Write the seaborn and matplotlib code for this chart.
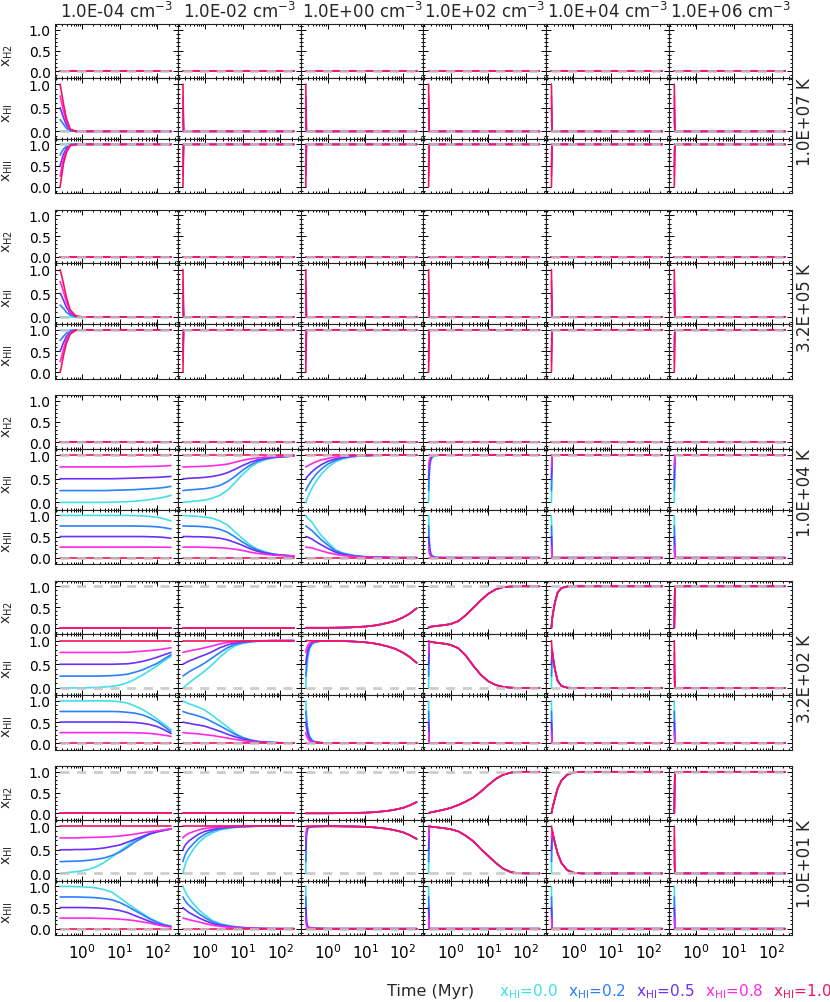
import matplotlib
matplotlib.use("Agg")
import matplotlib.pyplot as plt
from matplotlib.ticker import MultipleLocator, FormatStrFormatter, LogLocator
import seaborn as sns
import pandas as pd

# time grid (Myr) the curves are sampled on
T = [0.26, 0.27, 0.29, 0.32, 0.38, 0.48, 0.68, 1.0, 1.6, 2.5, 4.0, 6.3, 10.0,
     16.0, 25.0, 40.0, 63.0, 100.0, 150.0, 230.0]

DENS_LABELS = ["1.0E-04 cm$^{-3}$", "1.0E-02 cm$^{-3}$", "1.0E+00 cm$^{-3}$",
               "1.0E+02 cm$^{-3}$", "1.0E+04 cm$^{-3}$", "1.0E+06 cm$^{-3}$"]
TEMP_LABELS = ["1.0E+07 K", "3.2E+05 K", "1.0E+04 K", "3.2E+02 K", "1.0E+01 K"]
SPECIES = ["H2", "HI", "HII"]
SPECIES_LABELS = [r"x$_{\mathrm{H2}}$", r"x$_{\mathrm{HI}}$", r"x$_{\mathrm{HII}}$"]

INIT_LABELS = ["0.0", "0.2", "0.5", "0.8", "1.0"]
X0 = [0.0, 0.25, 0.5, 0.75, 1.0]
X0_HII = [1.0, 0.75, 0.5, 0.25, 0.0]
COLORS = ["#40e0e8", "#2a80ff", "#6a30ff", "#ff28e6", "#f5145c"]

# equilibrium values per temperature block (grey dashed)
EQ_H2 = [0.0, 0.0, 0.0, 1.0, 1.0]
EQ_HI = [0.0, 0.0, 1.0, 0.0, 0.0]
EQ_HII = [1.0, 1.0, 0.0, 0.0, 0.0]

# ---- panels that don't jump straight to equilibrium ----
HI_T1E7_N4M = [[0.0],
               [0.25, 0.23, 0.2, 0.15, 0.07, 0.01, 0.0],
               [0.5, 0.46, 0.39, 0.29, 0.14, 0.03, 0.0],
               [0.75, 0.69, 0.58, 0.43, 0.21, 0.04, 0.0],
               [1.0, 0.92, 0.78, 0.58, 0.28, 0.05, 0.0]]
HII_T1E7_N4M = [[1.0],
                [0.75, 0.78, 0.83, 0.89, 0.95, 1.0],
                [0.5, 0.55, 0.65, 0.77, 0.9, 0.99, 1.0],
                [0.25, 0.33, 0.48, 0.66, 0.85, 0.98, 1.0],
                [0.0, 0.1, 0.3, 0.55, 0.8, 0.97, 1.0]]

HI_T3E5_N4M = [[0.0],
               [0.25, 0.24, 0.21, 0.18, 0.1, 0.04, 0.005, 0.0],
               [0.5, 0.48, 0.43, 0.35, 0.21, 0.08, 0.01, 0.0],
               [0.75, 0.71, 0.64, 0.53, 0.32, 0.11, 0.015, 0.0],
               [1.0, 0.95, 0.85, 0.7, 0.42, 0.15, 0.02, 0.0]]
HII_T3E5_N4M = [[1.0],
                [0.75, 0.77, 0.8, 0.85, 0.92, 0.98, 1.0],
                [0.5, 0.53, 0.6, 0.7, 0.84, 0.95, 1.0],
                [0.25, 0.3, 0.4, 0.55, 0.76, 0.93, 0.99, 1.0],
                [0.0, 0.06, 0.2, 0.4, 0.68, 0.9, 0.99, 1.0]]

HI_T1E4_N4M = [[0.0] * 10 + [0.002, 0.005, 0.01, 0.015, 0.025, 0.04, 0.06, 0.085, 0.11, 0.15],
               [0.25] * 11 + [0.255, 0.26, 0.265, 0.27, 0.28, 0.29, 0.3, 0.315, 0.34],
               [0.5] * 12 + [0.505, 0.51, 0.515, 0.52, 0.525, 0.53, 0.54, 0.55],
               [0.75] * 14 + [0.755, 0.76, 0.76, 0.765, 0.77, 0.78],
               [1.0]]
HII_T1E4_N4M = [[1.0] * 14 + [0.995, 0.99, 0.975, 0.955, 0.92, 0.87],
                [0.75] * 15 + [0.745, 0.74, 0.73, 0.71, 0.68],
                [0.5] * 16 + [0.495, 0.49, 0.48, 0.46],
                [0.25] * 17 + [0.248, 0.247, 0.245],
                [0.0]]

HI_T1E4_N2M = [[0.0, 0.0, 0.005, 0.01, 0.015, 0.025, 0.035, 0.05, 0.09, 0.15, 0.26, 0.42, 0.59, 0.74, 0.84, 0.9, 0.94, 0.96, 0.97, 0.98],
               [0.25, 0.25, 0.255, 0.26, 0.265, 0.27, 0.28, 0.29, 0.32, 0.36, 0.44, 0.55, 0.68, 0.79, 0.87, 0.92, 0.95, 0.96, 0.97, 0.98],
               [0.5, 0.5, 0.5, 0.505, 0.51, 0.515, 0.52, 0.53, 0.55, 0.58, 0.63, 0.7, 0.78, 0.85, 0.9, 0.93, 0.95, 0.965, 0.975, 0.98],
               [0.75, 0.75, 0.75, 0.75, 0.755, 0.755, 0.76, 0.765, 0.775, 0.79, 0.81, 0.85, 0.89, 0.92, 0.94, 0.96, 0.97, 0.975, 0.98, 0.98],
               [1.0]]
HII_T1E4_N2M = [[1.0, 1.0, 1.0, 0.995, 0.99, 0.985, 0.975, 0.96, 0.93, 0.87, 0.77, 0.61, 0.45, 0.3, 0.2, 0.14, 0.09, 0.065, 0.05, 0.04],
                [0.75, 0.75, 0.75, 0.75, 0.745, 0.745, 0.74, 0.73, 0.71, 0.67, 0.6, 0.49, 0.37, 0.26, 0.18, 0.12, 0.085, 0.06, 0.05, 0.04],
                [0.5, 0.5, 0.5, 0.5, 0.5, 0.495, 0.495, 0.49, 0.48, 0.46, 0.42, 0.36, 0.29, 0.21, 0.15, 0.11, 0.08, 0.06, 0.05, 0.04],
                [0.25, 0.25, 0.25, 0.25, 0.25, 0.25, 0.25, 0.245, 0.24, 0.235, 0.22, 0.2, 0.17, 0.13, 0.1, 0.08, 0.06, 0.05, 0.045, 0.04],
                [0.0]]

HI_T1E4_N0 = [[0.0, 0.04, 0.1, 0.18, 0.3, 0.44, 0.6, 0.74, 0.86, 0.92, 0.96, 0.975, 0.985, 0.99, 0.995, 1.0],
              [0.25, 0.28, 0.33, 0.39, 0.48, 0.59, 0.71, 0.81, 0.89, 0.94, 0.965, 0.98, 0.99, 0.995, 1.0],
              [0.5, 0.52, 0.55, 0.59, 0.65, 0.72, 0.8, 0.87, 0.92, 0.955, 0.975, 0.985, 0.99, 0.995, 1.0],
              [0.75, 0.76, 0.77, 0.79, 0.82, 0.86, 0.9, 0.93, 0.96, 0.975, 0.985, 0.99, 0.995, 1.0],
              [1.0]]
HII_T1E4_N0 = [[1.0, 0.97, 0.94, 0.9, 0.84, 0.7, 0.52, 0.36, 0.19, 0.11, 0.07, 0.04, 0.025, 0.015, 0.01, 0.005, 0.0],
               [0.75, 0.74, 0.72, 0.69, 0.64, 0.55, 0.42, 0.3, 0.16, 0.1, 0.06, 0.035, 0.02, 0.013, 0.008, 0.005, 0.0],
               [0.5, 0.495, 0.49, 0.47, 0.44, 0.38, 0.3, 0.22, 0.13, 0.08, 0.05, 0.03, 0.018, 0.012, 0.008, 0.005, 0.0],
               [0.25, 0.25, 0.245, 0.24, 0.23, 0.2, 0.16, 0.12, 0.08, 0.05, 0.035, 0.022, 0.014, 0.01, 0.006, 0.004, 0.0],
               [0.0]]

HI_T1E4_N2P = [[0.0, 0.55, 0.85, 0.95, 0.99, 1.0],
               [0.25, 0.66, 0.89, 0.96, 0.99, 1.0],
               [0.5, 0.78, 0.92, 0.97, 0.995, 1.0],
               [0.75, 0.89, 0.96, 0.985, 1.0],
               [1.0]]
HII_T1E4_N2P = [[1.0, 0.45, 0.15, 0.05, 0.01, 0.0],
                [0.75, 0.34, 0.11, 0.04, 0.01, 0.0],
                [0.5, 0.22, 0.08, 0.03, 0.005, 0.0],
                [0.25, 0.11, 0.04, 0.015, 0.0],
                [0.0]]

HI_T320_N4M = [[0.0] * 7 + [0.0, 0.005, 0.01, 0.02, 0.035, 0.06, 0.11, 0.18, 0.27, 0.37, 0.47, 0.57, 0.67],
               [0.25] * 10 + [0.255, 0.26, 0.27, 0.29, 0.33, 0.38, 0.45, 0.52, 0.61, 0.7],
               [0.5] * 12 + [0.505, 0.51, 0.53, 0.56, 0.6, 0.65, 0.7, 0.75],
               [0.75] * 13 + [0.755, 0.765, 0.775, 0.79, 0.805, 0.825, 0.85],
               [1.0]]
HII_T320_N4M = [[1.0] * 11 + [0.995, 0.98, 0.95, 0.88, 0.8, 0.69, 0.57, 0.45, 0.32],
                [0.75] * 12 + [0.745, 0.73, 0.71, 0.67, 0.6, 0.51, 0.4, 0.27],
                [0.5] * 13 + [0.495, 0.49, 0.47, 0.44, 0.39, 0.32, 0.23],
                [0.25] * 14 + [0.245, 0.24, 0.23, 0.21, 0.19, 0.16],
                [0.0]]

HI_T320_N2M = [[0.0, 0.01, 0.03, 0.06, 0.11, 0.17, 0.26, 0.36, 0.5, 0.65, 0.79, 0.89, 0.94, 0.97, 0.985, 0.99, 0.995, 0.995, 1.0],
               [0.25, 0.26, 0.28, 0.3, 0.34, 0.39, 0.45, 0.53, 0.64, 0.75, 0.85, 0.92, 0.96, 0.98, 0.99, 0.995, 1.0],
               [0.5, 0.51, 0.52, 0.54, 0.57, 0.6, 0.65, 0.7, 0.77, 0.85, 0.91, 0.95, 0.975, 0.985, 0.99, 0.995, 1.0],
               [0.75, 0.755, 0.76, 0.77, 0.78, 0.8, 0.82, 0.85, 0.89, 0.93, 0.96, 0.975, 0.985, 0.99, 0.995, 1.0],
               [1.0]]
HII_T320_N2M = [[1.0, 0.99, 0.975, 0.96, 0.93, 0.9, 0.85, 0.78, 0.65, 0.52, 0.38, 0.24, 0.14, 0.08, 0.045, 0.025, 0.015, 0.01, 0.005, 0.003],
                [0.75, 0.745, 0.735, 0.72, 0.7, 0.68, 0.64, 0.59, 0.5, 0.41, 0.31, 0.21, 0.13, 0.075, 0.04, 0.025, 0.015, 0.01, 0.005, 0.003],
                [0.5, 0.495, 0.49, 0.48, 0.47, 0.45, 0.43, 0.4, 0.34, 0.28, 0.21, 0.15, 0.1, 0.06, 0.035, 0.02, 0.012, 0.008, 0.005, 0.003],
                [0.25, 0.25, 0.245, 0.24, 0.235, 0.23, 0.22, 0.2, 0.18, 0.15, 0.12, 0.09, 0.06, 0.04, 0.025, 0.015, 0.01, 0.006, 0.004, 0.002],
                [0.0]]

H2_T320_N0 = [0.0] * 8 + [0.002, 0.005, 0.01, 0.02, 0.03, 0.05, 0.08, 0.12, 0.17, 0.25, 0.34, 0.47]
HI_T320_N0_HEAD = [[0.0, 0.3, 0.6, 0.8, 0.93, 0.97, 0.99],
                   [0.25, 0.45, 0.68, 0.84, 0.94, 0.975, 0.99],
                   [0.5, 0.63, 0.78, 0.88, 0.955, 0.98, 0.99],
                   [0.75, 0.82, 0.89, 0.94, 0.97, 0.985, 0.99],
                   [1.0, 1.0, 1.0, 0.995, 0.995, 0.995, 0.995]]
HI_T320_N0_TAIL = [0.995, 0.995, 0.99, 0.985, 0.975, 0.965, 0.945, 0.915, 0.875, 0.825, 0.745, 0.655, 0.53]
HII_T320_N0 = [[1.0, 0.7, 0.4, 0.2, 0.07, 0.03, 0.01, 0.005, 0.0],
               [0.75, 0.55, 0.32, 0.16, 0.06, 0.025, 0.01, 0.005, 0.0],
               [0.5, 0.37, 0.22, 0.12, 0.045, 0.02, 0.01, 0.005, 0.0],
               [0.25, 0.18, 0.11, 0.06, 0.03, 0.015, 0.01, 0.005, 0.0],
               [0.0]]

H2_T320_N2P = [0.0, 0.02, 0.025, 0.03, 0.04, 0.05, 0.065, 0.09, 0.16, 0.3, 0.48, 0.66, 0.82, 0.93, 0.98, 0.995, 1.0]
HI_T320_N2P_TAIL = [0.98, 0.975, 0.97, 0.96, 0.95, 0.935, 0.91, 0.84, 0.69, 0.47, 0.28, 0.14, 0.06, 0.02, 0.005, 0.0]

H2_T320_N4P = [0.0, 0.2, 0.38, 0.6, 0.85, 0.96, 0.995, 1.0]
HI_T320_N4P_TAIL = [0.8, 0.62, 0.4, 0.15, 0.04, 0.005, 0.0]

HI_T10_N4M = [[0.0, 0.002, 0.005, 0.01, 0.015, 0.025, 0.035, 0.055, 0.09, 0.15, 0.24, 0.35, 0.47, 0.59, 0.7, 0.78, 0.85, 0.89, 0.92, 0.94],
              [0.25, 0.25, 0.25, 0.25, 0.255, 0.255, 0.26, 0.265, 0.28, 0.3, 0.33, 0.38, 0.45, 0.55, 0.66, 0.75, 0.83, 0.88, 0.91, 0.94],
              [0.5, 0.5, 0.5, 0.5, 0.5, 0.5, 0.505, 0.505, 0.51, 0.52, 0.54, 0.57, 0.6, 0.66, 0.72, 0.78, 0.84, 0.88, 0.91, 0.94],
              [0.75] * 7 + [0.755, 0.76, 0.765, 0.77, 0.78, 0.79, 0.81, 0.83, 0.86, 0.88, 0.9, 0.92, 0.94],
              [1.0]]
HII_T10_N4M = [[1.0] * 6 + [0.995, 0.99, 0.98, 0.96, 0.92, 0.86, 0.73, 0.6, 0.48, 0.36, 0.25, 0.16, 0.1, 0.06],
               [0.75] * 7 + [0.745, 0.74, 0.73, 0.71, 0.68, 0.62, 0.53, 0.43, 0.33, 0.23, 0.15, 0.09, 0.055],
               [0.5] * 8 + [0.495, 0.49, 0.48, 0.46, 0.43, 0.38, 0.31, 0.24, 0.17, 0.11, 0.075, 0.05],
               [0.25] * 9 + [0.245, 0.24, 0.235, 0.225, 0.21, 0.19, 0.16, 0.13, 0.09, 0.06, 0.04],
               [0.0]]

HI_T10_N2M = [[0.0, 0.06, 0.15, 0.26, 0.37, 0.5, 0.65, 0.77, 0.86, 0.92, 0.95, 0.97, 0.985, 0.99, 0.995, 1.0],
              [0.25, 0.3, 0.37, 0.45, 0.53, 0.62, 0.74, 0.83, 0.9, 0.94, 0.965, 0.98, 0.99, 0.995, 1.0],
              [0.5, 0.53, 0.58, 0.63, 0.69, 0.75, 0.83, 0.89, 0.93, 0.96, 0.975, 0.985, 0.99, 0.995, 1.0],
              [0.75, 0.77, 0.79, 0.82, 0.85, 0.88, 0.92, 0.95, 0.97, 0.98, 0.99, 0.995, 1.0],
              [1.0]]
HII_T10_N2M = [[1.0, 0.96, 0.9, 0.82, 0.72, 0.6, 0.45, 0.32, 0.19, 0.12, 0.08, 0.05, 0.03, 0.015, 0.008, 0.004, 0.002, 0.0],
               [0.75, 0.72, 0.68, 0.62, 0.55, 0.47, 0.36, 0.26, 0.16, 0.1, 0.065, 0.04, 0.025, 0.012, 0.006, 0.003, 0.0],
               [0.5, 0.48, 0.46, 0.43, 0.38, 0.33, 0.26, 0.19, 0.12, 0.08, 0.05, 0.03, 0.02, 0.01, 0.005, 0.002, 0.0],
               [0.25, 0.245, 0.24, 0.23, 0.21, 0.19, 0.16, 0.12, 0.08, 0.055, 0.035, 0.022, 0.013, 0.007, 0.003, 0.001, 0.0],
               [0.0]]

H2_T10_N0 = [0.0] * 8 + [0.002, 0.004, 0.006, 0.01, 0.015, 0.025, 0.04, 0.06, 0.09, 0.13, 0.19, 0.27]
HI_T10_N0_HEAD = [[0.0, 0.75, 0.93, 0.97, 0.985, 0.99, 0.995],
                  [0.25, 0.81, 0.95, 0.975, 0.99, 0.99, 0.995],
                  [0.5, 0.87, 0.96, 0.98, 0.99, 0.995, 0.995],
                  [0.75, 0.93, 0.975, 0.985, 0.99, 0.995, 0.995],
                  [1.0, 1.0, 1.0, 1.0, 1.0, 1.0, 0.998]]
HI_T10_N0_TAIL = [0.998, 0.997, 0.995, 0.993, 0.99, 0.985, 0.975, 0.96, 0.94, 0.91, 0.87, 0.81, 0.73]
HII_T10_N0 = [[1.0, 0.25, 0.07, 0.03, 0.015, 0.01, 0.005, 0.0],
              [0.75, 0.19, 0.05, 0.025, 0.01, 0.008, 0.004, 0.0],
              [0.5, 0.13, 0.04, 0.02, 0.01, 0.005, 0.003, 0.0],
              [0.25, 0.07, 0.025, 0.015, 0.008, 0.004, 0.002, 0.0],
              [0.0]]

H2_T10_N2P = [0.0, 0.01, 0.02, 0.03, 0.04, 0.06, 0.09, 0.13, 0.2, 0.28, 0.38, 0.52, 0.68, 0.83, 0.93, 0.98, 1.0]
HI_T10_N2P_TAIL = [0.995, 0.99, 0.985, 0.98, 0.97, 0.955, 0.935, 0.89, 0.8, 0.68, 0.52, 0.37, 0.22, 0.1, 0.025, 0.005, 0.0]

H2_T10_N4P = [0.0, 0.08, 0.2, 0.35, 0.6, 0.79, 0.93, 0.985, 1.0]
HI_T10_N4P_TAIL = [0.92, 0.8, 0.65, 0.42, 0.22, 0.07, 0.015, 0.0]

NO_H2 = [[0.0]] * 5

OVERRIDES = {
    (0, 0): dict(HI=HI_T1E7_N4M, HII=HII_T1E7_N4M),
    (1, 0): dict(HI=HI_T3E5_N4M, HII=HII_T3E5_N4M),
    (2, 0): dict(HI=HI_T1E4_N4M, HII=HII_T1E4_N4M),
    (2, 1): dict(HI=HI_T1E4_N2M, HII=HII_T1E4_N2M),
    (2, 2): dict(HI=HI_T1E4_N0, HII=HII_T1E4_N0),
    (2, 3): dict(HI=HI_T1E4_N2P, HII=HII_T1E4_N2P),
    (3, 0): dict(H2=NO_H2, HI=HI_T320_N4M, HII=HII_T320_N4M),
    (3, 1): dict(H2=NO_H2, HI=HI_T320_N2M, HII=HII_T320_N2M),
    (3, 2): dict(H2=[H2_T320_N0] * 5, HI=[h + HI_T320_N0_TAIL for h in HI_T320_N0_HEAD], HII=HII_T320_N0),
    (3, 3): dict(H2=[H2_T320_N2P] * 5, HI=[[x] + HI_T320_N2P_TAIL for x in X0]),
    (3, 4): dict(H2=[H2_T320_N4P] * 5, HI=[[x] + HI_T320_N4P_TAIL for x in X0]),
    (4, 0): dict(H2=NO_H2, HI=HI_T10_N4M, HII=HII_T10_N4M),
    (4, 1): dict(H2=NO_H2, HI=HI_T10_N2M, HII=HII_T10_N2M),
    (4, 2): dict(H2=[H2_T10_N0] * 5, HI=[h + HI_T10_N0_TAIL for h in HI_T10_N0_HEAD], HII=HII_T10_N0),
    (4, 3): dict(H2=[H2_T10_N2P] * 5, HI=[[x] + HI_T10_N2P_TAIL for x in X0]),
    (4, 4): dict(H2=[H2_T10_N4P] * 5, HI=[[x] + HI_T10_N4P_TAIL for x in X0]),
}


def hold(v):
    # curve stays at its last read value to the end of the run
    v = list(v)
    return (v + [v[-1]] * (len(T) - len(v)))[:len(T)]


def step(a, b):
    return [a] + [b] * (len(T) - 1)


def panel_curves(b, c):
    cur = {
        "H2": [step(0.0, EQ_H2[b]) for _ in X0],
        "HI": [step(x, EQ_HI[b]) for x in X0],
        "HII": [step(x, EQ_HII[b]) for x in X0_HII],
    }
    for sp, rows in OVERRIDES.get((b, c), {}).items():
        cur[sp] = [hold(r) for r in rows]
    return cur


sns.set_style("ticks")
plt.rcParams["font.family"] = ["DejaVu Sans"]
plt.rcParams["lines.scale_dashes"] = False
plt.rcParams["mathtext.default"] = "regular"

W, H = 830, 1003
fig = plt.figure(figsize=(W / 100, H / 100), dpi=100)

LEFT, COLW = 55.0, 122.83
BLOCK_TOP0, BLOCK_STEP = 25.0, 185.5
ROW_H = [53.5, 61.0, 54.5]
eqs = {"H2": EQ_H2, "HI": EQ_HI, "HII": EQ_HII}

for b in range(5):
    top = BLOCK_TOP0 + b * BLOCK_STEP
    for c in range(6):
        curves = panel_curves(b, c)
        y0 = top
        for r, sp in enumerate(SPECIES):
            rect = [(LEFT + c * COLW) / W, 1 - (y0 + ROW_H[r]) / H, COLW / W, ROW_H[r] / H]
            ax = fig.add_axes(rect)
            ax.set_xscale("log")
            rows = []
            for k, lab in enumerate(INIT_LABELS):
                for t, v in zip(T, curves[sp][k]):
                    rows.append((t, v, lab))
            df = pd.DataFrame(rows, columns=["t", "x", "init"])
            sns.lineplot(data=df, x="t", y="x", hue="init", hue_order=INIT_LABELS,
                         palette=COLORS, estimator=None, sort=False, legend=False,
                         linewidth=1.2, ax=ax)
            ax.plot([T[0], T[-1]], [eqs[sp][b]] * 2, color="#c4c4c4", lw=2.0,
                    alpha=0.85, dashes=(6.5, 5.5), zorder=5)
            ax.set_xlim(0.19, 350)
            ax.set_ylim(-0.15, 1.14)
            ax.set_xlabel("")
            ax.set_ylabel("")
            ax.set_yticks([0.0, 0.5, 1.0])
            ax.yaxis.set_minor_locator(MultipleLocator(0.1))
            ax.yaxis.set_major_formatter(FormatStrFormatter("%.1f"))
            ax.xaxis.set_major_locator(LogLocator(base=10, numticks=10))
            ax.xaxis.set_minor_locator(LogLocator(base=10, subs=range(2, 10), numticks=20))
            last = (b == 4 and r == 2)
            ax.tick_params(which="both", direction="in", top=True, right=True,
                           labelleft=(c == 0), labelbottom=last,
                           width=0.7, colors="black")
            ax.tick_params(axis="y", labelsize=10, pad=3)
            ax.tick_params(axis="x", labelsize=11, pad=5)
            ax.tick_params(which="major", length=3.8)
            ax.tick_params(which="minor", length=1.6)
            for s in ax.spines.values():
                s.set_linewidth(0.8)
                s.set_color("#222222")
            if c == 0:
                fig.text(8 / W, 1 - (y0 + ROW_H[r] / 2 + 4) / H, SPECIES_LABELS[r],
                         rotation=90, ha="center", va="center", fontsize=10)
            y0 += ROW_H[r]
    fig.text(805 / W, 1 - (top + 169 / 2 + 13) / H, TEMP_LABELS[b], rotation=90,
             ha="center", va="center", fontsize=12)

for c in range(6):
    fig.text((LEFT + (c + 0.5) * COLW) / W, 1 - 18.5 / H, DENS_LABELS[c],
             ha="center", va="baseline", fontsize=12)

fig.text(431 / W, 1 - 996 / H, "Time (Myr)", ha="center", va="baseline", fontsize=11.5)
leg_x = [499, 568, 636, 705, 773]
for x, lab, col in zip(leg_x, INIT_LABELS, COLORS):
    fig.text(x / W, 1 - 996 / H, r"x$_{\mathrm{HI}}$=" + lab, color=col,
             ha="left", va="baseline", fontsize=11)

fig.savefig("out.png", dpi=100)
